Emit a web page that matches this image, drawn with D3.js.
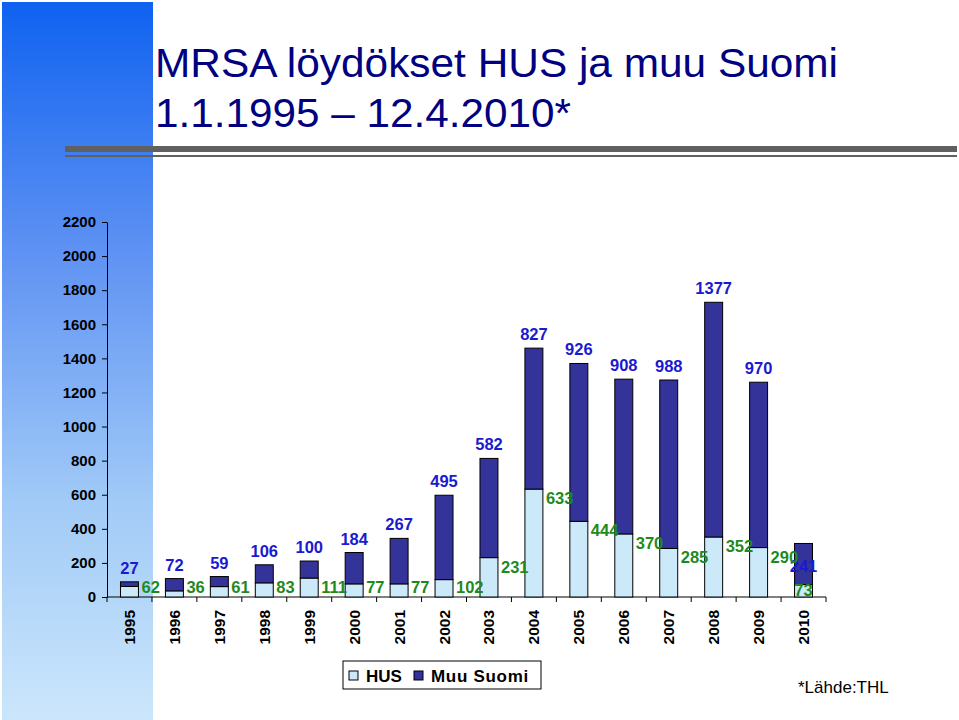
<!DOCTYPE html>
<html><head><meta charset="utf-8">
<script src="https://cdn.jsdelivr.net/npm/d3@7"></script>
<style>html,body{margin:0;padding:0;background:#fff;}svg{display:block;font-family:"Liberation Sans",Arial,sans-serif;}</style>
</head><body>
<svg id="c" width="959" height="720"></svg>
<script>
const years = ["1995","1996","1997","1998","1999","2000","2001","2002","2003","2004","2005","2006","2007","2008","2009","2010"];
const hus = [62,36,61,83,111,77,77,102,231,633,444,370,285,352,290,73];
const muuSuomi = [27,72,59,106,100,184,267,495,582,827,926,908,988,1377,970,241];
const yTicks = [0,200,400,600,800,1000,1200,1400,1600,1800,2000,2200];
const seriesNames = ["HUS","Muu Suomi"];
const titleLines = ["MRSA löydökset HUS ja muu Suomi","1.1.1995 – 12.4.2010*"];
const sourceNote = "*Lähde:THL";

const svg = d3.select("#c");
const defs = svg.append("defs");
const grad = defs.append("linearGradient").attr("id","bg").attr("x1",0).attr("y1",0).attr("x2",0).attr("y2",1);
grad.append("stop").attr("offset","0%").attr("stop-color","#0f62f0");
grad.append("stop").attr("offset","35%").attr("stop-color","#5f92f3");
grad.append("stop").attr("offset","70%").attr("stop-color","#a2cbf7");
grad.append("stop").attr("offset","100%").attr("stop-color","#cbe6fb");
svg.append("rect").attr("x",2).attr("y",2).attr("width",151).attr("height",718).attr("fill","url(#bg)");

// title
svg.append("text").attr("x",155).attr("y",77).attr("font-size",40).attr("fill","#000080")
  .attr("textLength",683).attr("lengthAdjust","spacingAndGlyphs").text(titleLines[0]);
svg.append("text").attr("x",155).attr("y",127).attr("font-size",40).attr("fill","#000080")
  .attr("textLength",416).attr("lengthAdjust","spacingAndGlyphs").text(titleLines[1]);
svg.append("rect").attr("x",65).attr("y",146).attr("width",892).attr("height",6).attr("fill","#606060");
svg.append("rect").attr("x",65).attr("y",155).attr("width",892).attr("height",2).attr("fill","#606060");

const x0 = 107, x1 = 826, yTop = 222, yBot = 597;
const x = d3.scaleBand().domain(years).range([x0,x1]).paddingInner(0).paddingOuter(0);
const y = d3.scaleLinear().domain([0,2200]).range([yBot,yTop]);
const bw = x.bandwidth()*0.4;

// y axis
const yAxis = d3.axisLeft(y).tickValues(yTicks).tickSize(5).tickSizeOuter(0).tickFormat(d3.format("d"));
const gy = svg.append("g").attr("transform",`translate(${x0},0)`).call(yAxis);
gy.attr("font-family",null).attr("font-size",null);
gy.select(".domain").attr("stroke","#000");
gy.selectAll(".tick line").attr("stroke","#000");
gy.selectAll(".tick text").attr("font-size",15).attr("font-weight","bold").attr("fill","#000")
  .attr("x",-11);

// x axis
svg.append("line").attr("x1",x0).attr("x2",x1).attr("y1",yBot).attr("y2",yBot).attr("stroke","#000");
const bounds = years.map(d=>x(d)).concat([x1]);
svg.selectAll(".xt").data(bounds).enter().append("line")
  .attr("x1",d=>d).attr("x2",d=>d).attr("y1",yBot).attr("y2",yBot+5).attr("stroke","#000");
svg.selectAll(".yl").data(years).enter().append("text")
  .attr("transform",d=>`translate(${x(d)+x.bandwidth()/2+5.5},610) rotate(-90)`)
  .attr("text-anchor","end").attr("font-size",15.5).attr("font-weight","bold").attr("fill","#000").text(d=>d);

// bars
const data = years.map((yr,i)=>({yr,h:hus[i],m:muuSuomi[i],last:i===years.length-1}));
const bx = d=>x(d.yr)+(x.bandwidth()-bw)/2;
svg.selectAll(".bh").data(data).enter().append("rect")
  .attr("x",bx).attr("width",bw).attr("y",d=>y(d.h)).attr("height",d=>y(0)-y(d.h))
  .attr("fill","#cce9fa").attr("stroke","#000").attr("stroke-width",1);
svg.selectAll(".bm").data(data).enter().append("rect")
  .attr("x",bx).attr("width",bw).attr("y",d=>y(d.h+d.m)).attr("height",d=>y(d.h)-y(d.h+d.m))
  .attr("fill","#333399").attr("stroke","#000").attr("stroke-width",1);

// labels
svg.selectAll(".lm").data(data).enter().append("text")
  .attr("x",d=>bx(d)+bw/2)
  .attr("y",d=>d.last ? y(d.h+d.m)+29 : y(d.h+d.m)-8)
  .attr("text-anchor","middle").attr("font-size",16.5).attr("font-weight","bold").attr("fill","#1a1ad0")
  .text(d=>d.m);
svg.selectAll(".lh").data(data).enter().append("text")
  .attr("x",d=>d.last ? bx(d)+bw/2 : bx(d)+bw+3)
  .attr("y",d=>d.last ? yBot-1 : Math.min(y(d.h)+15,593))
  .attr("text-anchor",d=>d.last?"middle":"start").attr("font-size",16.5).attr("font-weight","bold").attr("fill","#1e8a1e")
  .text(d=>d.h);

// legend
const lg = svg.append("g");
lg.append("rect").attr("x",343).attr("y",661).attr("width",198).attr("height",28).attr("fill","#fff").attr("stroke","#000");
lg.append("rect").attr("x",349).attr("y",671).attr("width",9).attr("height",9).attr("fill","#cce9fa").attr("stroke","#000");
lg.append("text").attr("x",366).attr("y",682).attr("font-size",17).attr("font-weight","bold").text(seriesNames[0]);
lg.append("rect").attr("x",414).attr("y",671).attr("width",9).attr("height",9).attr("fill","#333399").attr("stroke","#000");
lg.append("text").attr("x",431).attr("y",682).attr("font-size",17).attr("font-weight","bold").attr("letter-spacing",0.7).text(seriesNames[1]);

svg.append("text").attr("x",798).attr("y",693).attr("font-size",17).attr("fill","#000").text(sourceNote);
</script>
</body></html>
